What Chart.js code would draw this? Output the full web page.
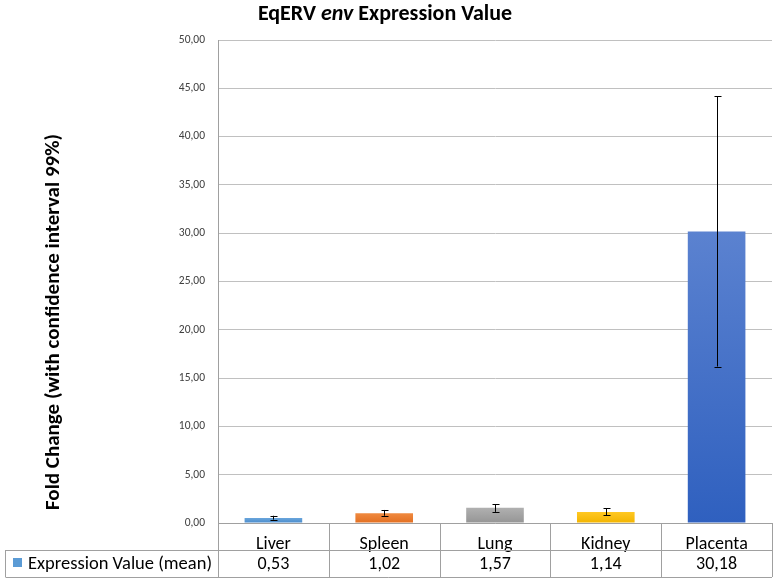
<!DOCTYPE html>
<html>
<head>
<meta charset="utf-8">
<script src="https://cdn.jsdelivr.net/npm/chart.js@4"></script>
<style>
  html, body { margin: 0; padding: 0; background: #fff; }
  #wrap { width: 778px; height: 583px; }
</style>
</head>
<body>
<div id="wrap"><canvas id="myChart" width="778" height="583"></canvas></div>
<script>
const labels = ['Liver', 'Spleen', 'Lung', 'Kidney', 'Placenta'];
const values = [0.53, 1.02, 1.57, 1.14, 30.18];
const errLow = [0.35, 0.75, 1.15, 0.8, 16.2];
const errHigh = [0.75, 1.35, 1.95, 1.55, 44.2];
const topColors = ['#6aa6dc', '#f08a40', '#b0b0b0', '#ffc823', '#5b82d0'];
const bottomColors = ['#4a8bcb', '#e26f22', '#959595', '#f2b400', '#2f60bf'];
const seriesName = 'Expression Value (mean)';
const yTitle = 'Fold Change (with confidence interval 99%)';

const FONT = "Carlito, Lato, 'Open Sans', sans-serif";
Chart.defaults.font.family = FONT;

const fmt = v => v.toFixed(2).replace('.', ',');

function barGradient(ctx) {
  const chart = ctx.chart;
  const area = chart.chartArea;
  if (!area) return topColors[ctx.dataIndex];
  const y = chart.scales.y;
  const top = y.getPixelForValue(values[ctx.dataIndex]);
  const g = chart.ctx.createLinearGradient(0, top, 0, area.bottom);
  g.addColorStop(0, topColors[ctx.dataIndex]);
  g.addColorStop(1, bottomColors[ctx.dataIndex]);
  return g;
}

// title, axis title, error bars and the data table under the axis
const extras = {
  id: 'extras',
  afterDatasetsDraw(chart) {
    const c = chart.ctx;
    const x = chart.scales.x, y = chart.scales.y;
    c.save();
    c.strokeStyle = '#000';
    c.lineWidth = 1;
    labels.forEach((l, i) => {
      const px = Math.round(x.getPixelForValue(i)) + 0.5;
      const y1 = y.getPixelForValue(errLow[i]);
      const y2 = y.getPixelForValue(errHigh[i]);
      c.beginPath();
      c.moveTo(px, y1); c.lineTo(px, y2);
      c.moveTo(px - 3, Math.round(y1) + 0.5); c.lineTo(px + 4, Math.round(y1) + 0.5);
      c.moveTo(px - 3, Math.round(y2) + 0.5); c.lineTo(px + 4, Math.round(y2) + 0.5);
      c.stroke();
    });
    c.restore();
  },
  afterDraw(chart) {
    const c = chart.ctx;
    const a = chart.chartArea;
    const x = chart.scales.x;
    c.save();
    // title
    c.fillStyle = '#000';
    c.textBaseline = 'middle';
    const parts = [['bold', 'EqERV '], ['italic bold', 'env'], ['bold', ' Expression Value']];
    let w = 0;
    parts.forEach(p => { c.font = p[0] + ' 22px ' + FONT; w += c.measureText(p[1]).width; });
    let tx = chart.width / 2 - w / 2 - 4;
    parts.forEach(p => {
      c.font = p[0] + ' 22px ' + FONT;
      c.textAlign = 'left';
      c.fillText(p[1], tx, 14);
      tx += c.measureText(p[1]).width;
    });

    // y axis title
    c.save();
    c.translate(54, 322);
    c.rotate(-Math.PI / 2);
    c.font = 'bold 21px ' + FONT;
    c.textAlign = 'center';
    c.fillText(yTitle, 0, 0);
    c.restore();

    // table
    const row1 = a.bottom, row2 = a.bottom + 27, row3 = a.bottom + 54;
    const leftEdge = 5.5;
    c.strokeStyle = '#a0a0a0';
    c.lineWidth = 1;
    c.beginPath();
    c.moveTo(leftEdge, row2 + 0.5); c.lineTo(a.right, row2 + 0.5);
    c.moveTo(leftEdge, row3 + 0.5); c.lineTo(a.right, row3 + 0.5);
    c.moveTo(leftEdge, row2); c.lineTo(leftEdge, row3);
    const step = (a.right - a.left) / labels.length;
    for (let i = 0; i <= labels.length; i++) {
      const px = Math.round(a.left + step * i) + 0.5;
      c.moveTo(px, row1); c.lineTo(px, row3);
    }
    c.stroke();

    c.fillStyle = '#5b9bd5';
    c.fillRect(13, row2 + 8, 9, 9);
    c.fillStyle = '#000';
    c.font = '18.5px ' + FONT;
    c.textAlign = 'left';
    c.fillText(seriesName, 28, row2 + 14);
    c.font = '18px ' + FONT;
    c.textAlign = 'center';
    values.forEach((v, i) => {
      c.fillText(fmt(v), x.getPixelForValue(i), row2 + 14);
    });
    c.restore();
  }
};

const data = {
  labels: labels,
  datasets: [{
    label: seriesName,
    data: values,
    backgroundColor: barGradient,
    borderWidth: 0,
    categoryPercentage: 1,
    barPercentage: 0.52
  }]
};

const config = {
  type: 'bar',
  data: data,
  options: {
    responsive: false,
    animation: false,
    layout: { padding: { top: 40, right: 6, bottom: 0, left: 0 } },
    plugins: {
      legend: { display: false },
      tooltip: { enabled: false }
    },
    scales: {
      x: {
        grid: { display: false },
        border: { display: true, color: '#a0a0a0' },
        ticks: { color: '#000', font: { size: 18 }, padding: 3 },
        afterFit: s => { s.height = 60; }
      },
      y: {
        min: 0,
        max: 50,
        ticks: {
          stepSize: 5,
          color: '#404040',
          font: { size: 11.5 },
          padding: 13,
          callback: v => fmt(v)
        },
        grid: { color: '#c0c0c0', drawTicks: false },
        border: { display: true, color: '#a0a0a0' },
        afterFit: s => { s.width = 218; }
      }
    }
  },
  plugins: [extras]
};

const myChart = new Chart(document.getElementById('myChart'), config);
</script>
</body>
</html>
